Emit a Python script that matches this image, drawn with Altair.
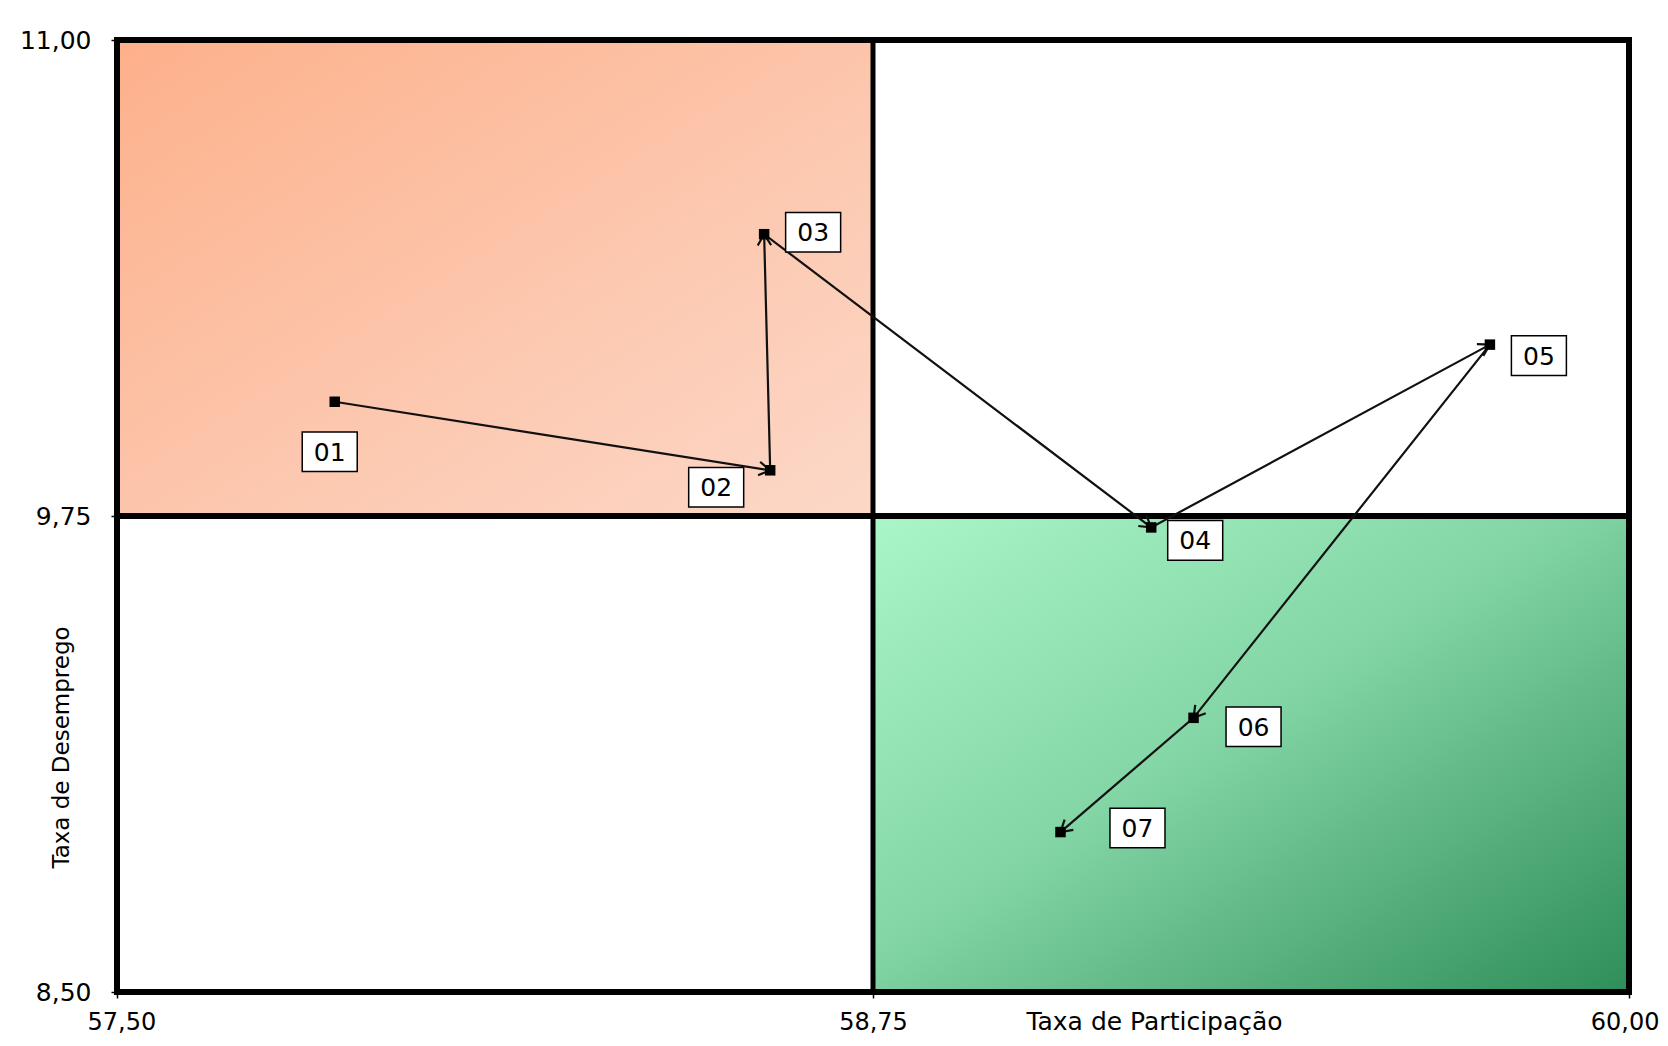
import math
import altair as alt
import pandas as pd

# ---- data ----
LABELS = ["01", "02", "03", "04", "05", "06", "07"]
PARTICIPACAO = [57.86, 58.58, 58.57, 59.21, 59.77, 59.28, 59.06]
DESEMPREGO = [10.05, 9.87, 10.49, 9.72, 10.20, 9.22, 8.92]

X_TICKS = [57.50, 58.75, 60.00]
Y_TICKS = [8.50, 9.75, 11.00]

# label-box offsets in pixels (style)
LABEL_DX = [-5, -54, 49, 44, 49, 60, 77]
LABEL_DY = [50, 17, -2, 13, 11, 9, -4]

W, H = 1512, 952
FONT = "DejaVu Sans"

pts = pd.DataFrame({"label": LABELS, "x": PARTICIPACAO, "y": DESEMPREGO,
                    "order": list(range(len(LABELS)))})

# arrow heads at the end of each segment, rotated to screen direction
xspan = X_TICKS[-1] - X_TICKS[0]
yspan = Y_TICKS[-1] - Y_TICKS[0]
arr_rows = []
for i in range(1, len(LABELS)):
    dxp = (PARTICIPACAO[i] - PARTICIPACAO[i - 1]) * W / xspan
    dyp = -(DESEMPREGO[i] - DESEMPREGO[i - 1]) * H / yspan
    ang = math.degrees(math.atan2(dyp, dxp)) % 360
    arr_rows.append({"x": PARTICIPACAO[i], "y": DESEMPREGO[i], "angle": ang})
arrows = pd.DataFrame(arr_rows)

SX = alt.Scale(domain=[X_TICKS[0], X_TICKS[-1]], nice=False, zero=False)
SY = alt.Scale(domain=[Y_TICKS[0], Y_TICKS[-1]], nice=False, zero=False)
LBL = "replace(format(datum.value, '.2f'), '.', ',')"

AX = alt.Axis(values=X_TICKS, labelExpr=LBL, grid=False, domain=False,
              labelFont=FONT, labelFontSize=24, labelColor="black",
              labelFlush=True, labelFlushOffset=30, labelOverlap=False,
              labelBaseline="alphabetic", labelPadding=31,
              tickColor="black", tickSize=6, tickWidth=1.5,
              title="Taxa de Participação", titleFont=FONT, titleFontSize=25,
              titleFontWeight="normal", titleColor="black",
              titleX=1037, titleY=37, titleAlign="center",
              titleBaseline="alphabetic", titleAnchor="start")
AY = alt.Axis(values=Y_TICKS, labelExpr=LBL, grid=False, domain=False,
              labelFont=FONT, labelFontSize=25, labelColor="black",
              labelFlush=False, labelOverlap=False,
              labelBaseline="middle", labelPadding=20,
              tickColor="black", tickSize=6, tickWidth=1.5,
              title="Taxa de Desemprego", titleFont=FONT, titleFontSize=23,
              titleFontWeight="normal", titleColor="black",
              titleX=-56, titleY=707, titleAngle=270, titleAlign="center",
              titleBaseline="middle", titleAnchor="start")


def X(field="x"):
    return alt.X(f"{field}:Q", scale=SX, axis=AX)


def Y(field="y"):
    return alt.Y(f"{field}:Q", scale=SY, axis=AY)


orange = alt.Gradient(gradient="linear",
                      stops=[alt.GradientStop(color="#FDB08A", offset=0),
                             alt.GradientStop(color="#FCC7AE", offset=0.55),
                             alt.GradientStop(color="#FCD8C8", offset=1)],
                      x1=0, y1=0, x2=1, y2=1)
green = alt.Gradient(gradient="linear",
                     stops=[alt.GradientStop(color="#AAF6C8", offset=0),
                            alt.GradientStop(color="#84D6A6", offset=0.45),
                            alt.GradientStop(color="#2E8E59", offset=1)],
                     x1=0, y1=0, x2=1, y2=1)

q_tl = pd.DataFrame({"x": [X_TICKS[0]], "x2": [X_TICKS[1]], "y": [Y_TICKS[1]], "y2": [Y_TICKS[2]]})
q_br = pd.DataFrame({"x": [X_TICKS[1]], "x2": [X_TICKS[2]], "y": [Y_TICKS[0]], "y2": [Y_TICKS[1]]})
frame = pd.DataFrame({"x": [X_TICKS[0]], "x2": [X_TICKS[2]], "y": [Y_TICKS[0]], "y2": [Y_TICKS[2]]})
vmid = pd.DataFrame({"x": [X_TICKS[1]], "y": [Y_TICKS[0]], "y2": [Y_TICKS[2]]})
hmid = pd.DataFrame({"x": [X_TICKS[0]], "x2": [X_TICKS[2]], "y": [Y_TICKS[1]]})

layers = []
layers.append(alt.Chart(q_tl).mark_rect(fill=orange).encode(
    x=X(), x2="x2:Q", y=Y(), y2="y2:Q"))
layers.append(alt.Chart(q_br).mark_rect(fill=green).encode(
    x=X(), x2="x2:Q", y=Y(), y2="y2:Q"))
layers.append(alt.Chart(vmid).mark_rule(color="black", strokeWidth=5).encode(
    x=X(), y=Y(), y2="y2:Q"))
layers.append(alt.Chart(hmid).mark_rule(color="black", strokeWidth=6).encode(
    x=X(), x2="x2:Q", y=Y()))
layers.append(alt.Chart(frame).mark_rect(filled=False, stroke="black", strokeWidth=6).encode(
    x=X(), x2="x2:Q", y=Y(), y2="y2:Q"))

layers.append(alt.Chart(pts).mark_line(color="#111111", strokeWidth=2.2).encode(
    x=X(), y=Y(), order="order:Q"))
layers.append(alt.Chart(arrows).mark_point(
    shape="M-1,-0.6L0,0L-1,0.6", filled=False, stroke="#111111",
    strokeWidth=2.2, size=500, opacity=1).encode(
    x=X(), y=Y(), angle=alt.Angle("angle:Q", scale=None)))
layers.append(alt.Chart(pts).mark_point(
    shape="square", filled=True, color="black", size=110, opacity=1).encode(
    x=X(), y=Y()))

for i, lab in enumerate(LABELS):
    one = pts.iloc[[i]]
    layers.append(alt.Chart(one).mark_point(
        shape="M-1,-0.72H1V0.72H-1Z", filled=True, fill="white",
        stroke="black", strokeWidth=1.5, size=3025, opacity=1,
        xOffset=LABEL_DX[i], yOffset=LABEL_DY[i]).encode(x=X(), y=Y()))
    layers.append(alt.Chart(one).mark_text(
        font=FONT, fontSize=25, color="black", align="center",
        baseline="middle", dx=LABEL_DX[i], dy=LABEL_DY[i] + 1).encode(
        x=X(), y=Y(), text="label:N"))

chart = alt.layer(*layers).properties(
    width=W, height=H,
    autosize=alt.AutoSizeParams(type="none"),
    padding={"left": 109, "top": 32, "right": 31, "bottom": 44},
).configure_view(stroke=None).configure(background="white")

chart.save("out.html", embed_options={"renderer": "svg", "actions": False})
